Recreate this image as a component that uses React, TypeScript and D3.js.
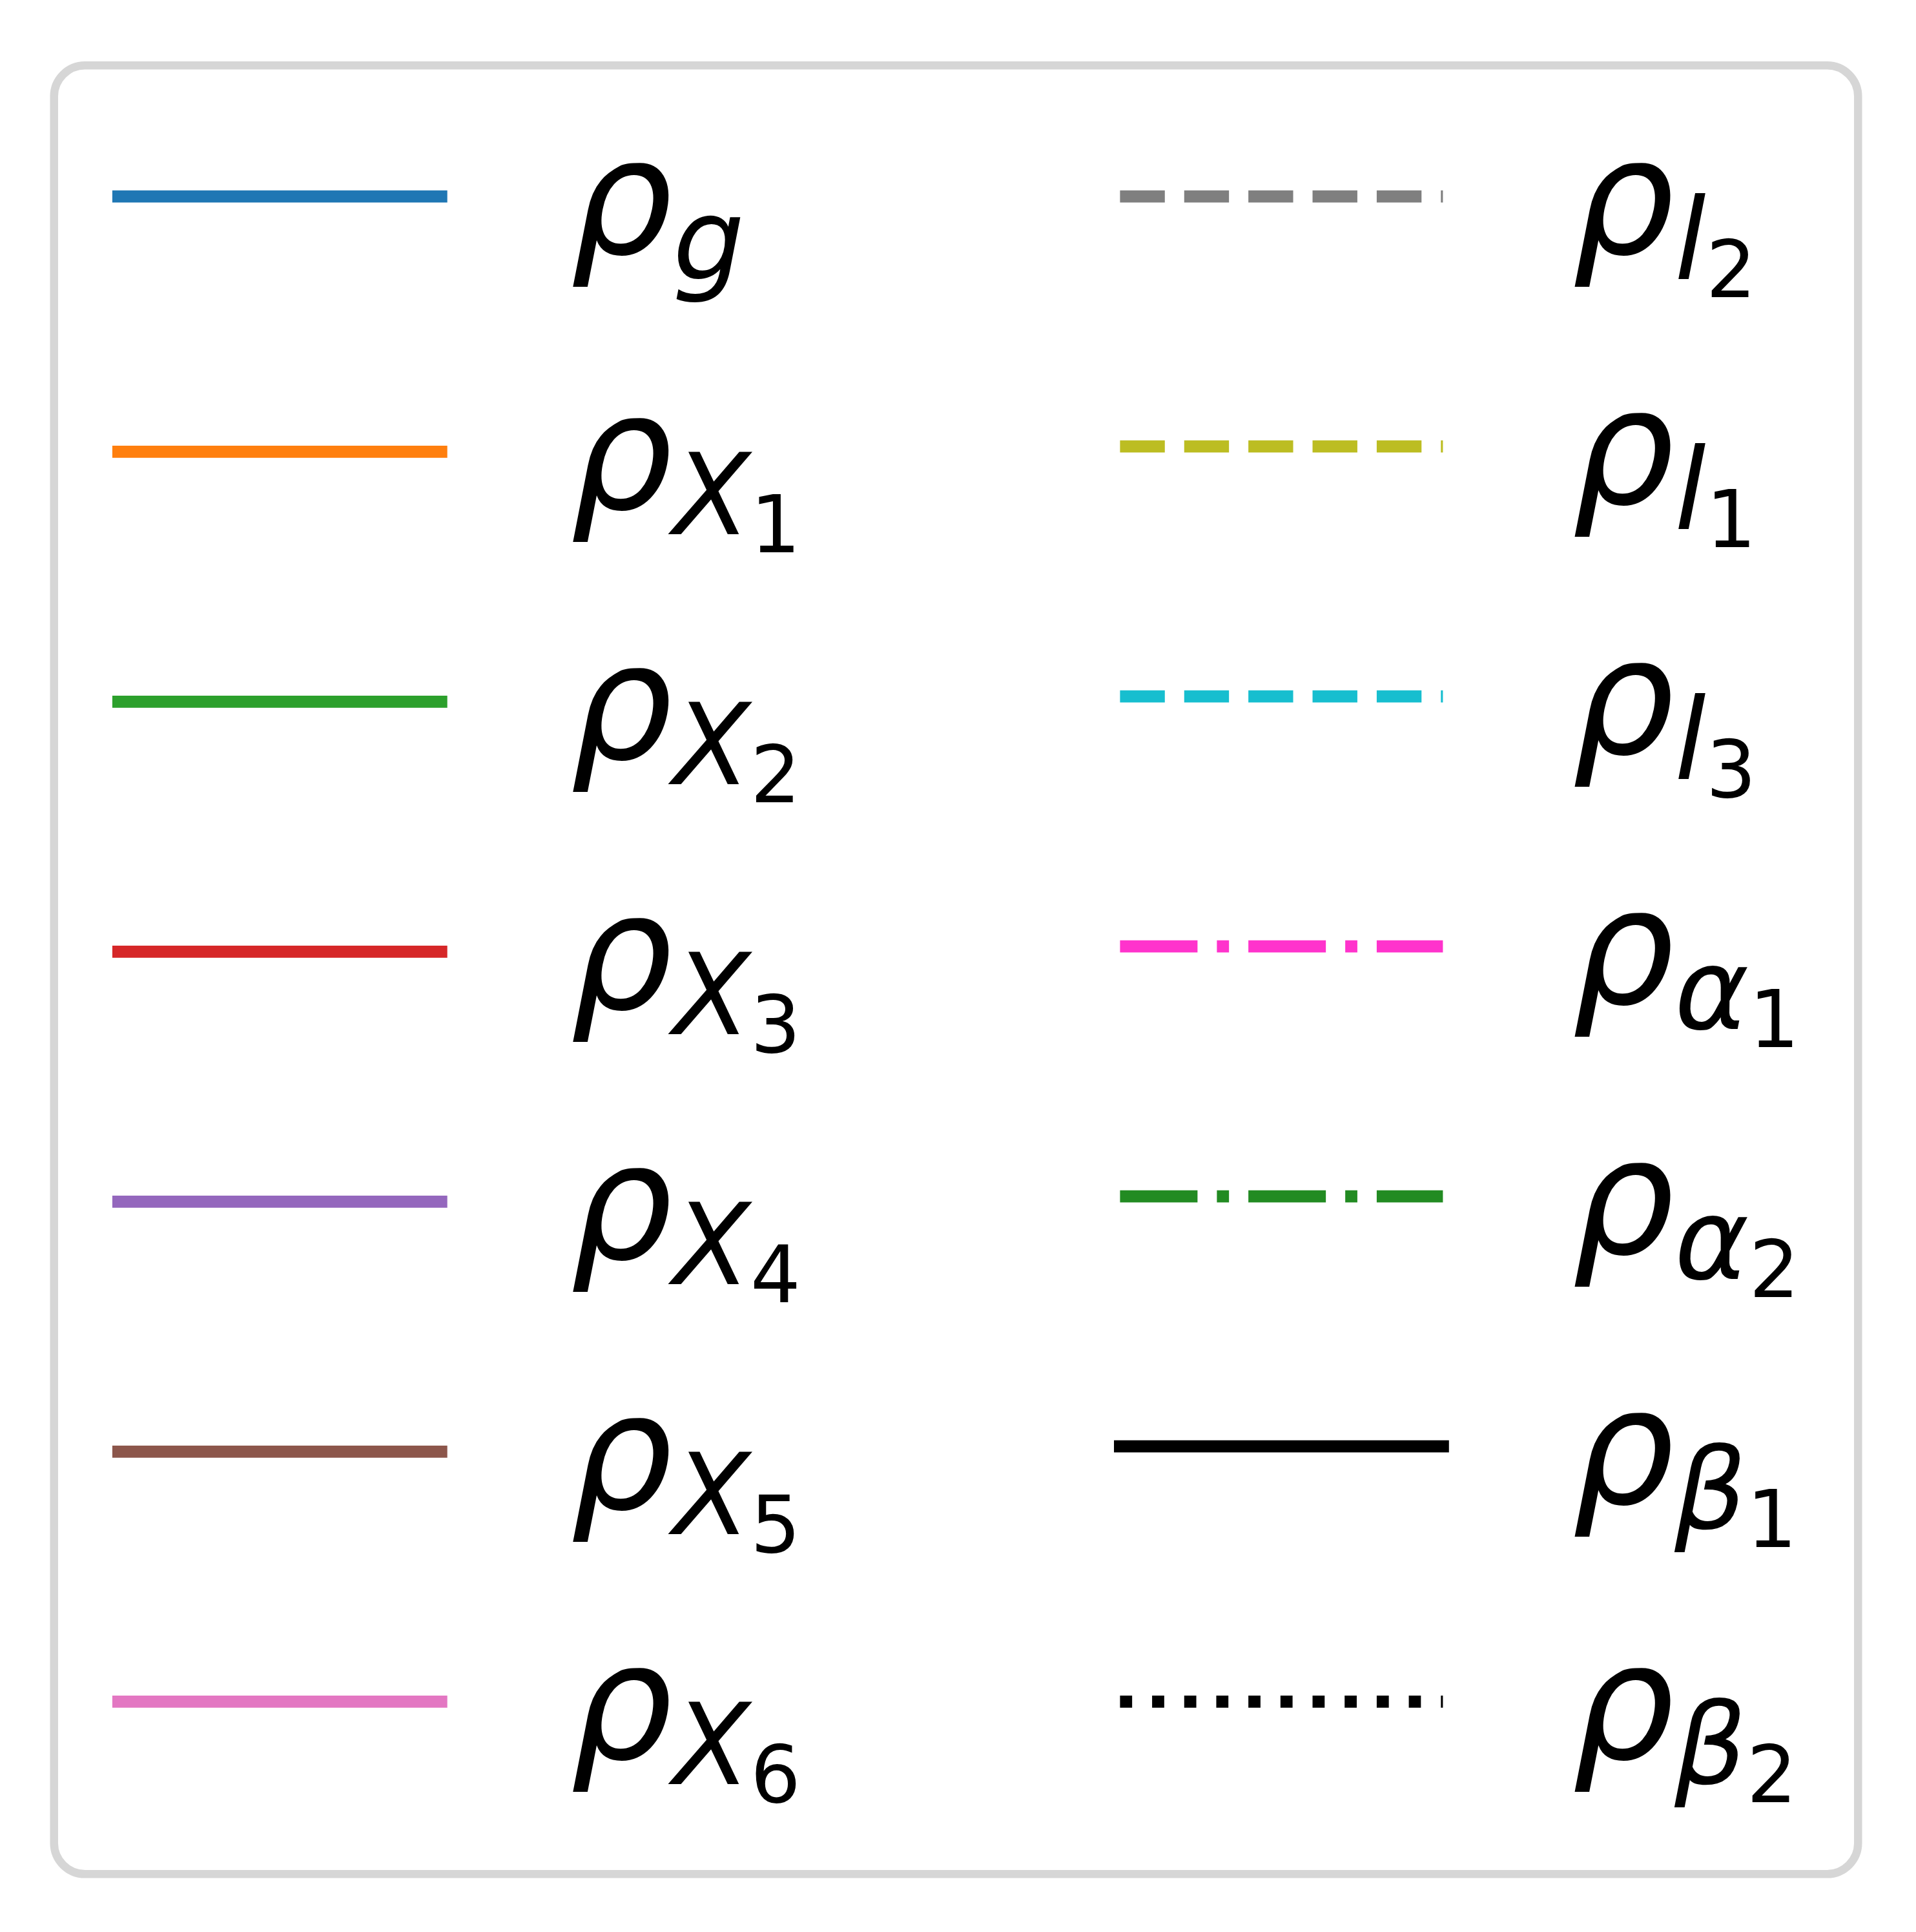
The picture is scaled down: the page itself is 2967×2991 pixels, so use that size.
import React from 'react';
import * as d3 from 'd3';

// ---------- data (legend entries) ----------
const leftSub = ['g', 'X', 'X', 'X', 'X', 'X', 'X'];
const leftSubSub = ['', '1', '2', '3', '4', '5', '6'];
const leftColors = ['#1f77b4', '#ff7f0e', '#2ca02c', '#d62728', '#9467bd', '#8c564b', '#e377c2'];
const leftStyles = ['-', '-', '-', '-', '-', '-', '-'];

const rightSub = ['l', 'l', 'l', 'α', 'α', 'β', 'β'];
const rightSubSub = ['2', '1', '3', '1', '2', '1', '2'];
const rightColors = ['#7f7f7f', '#bcbd22', '#17becf', '#ff33cc', '#228b22', '#000000', '#000000'];
const rightStyles = ['--', '--', '--', '-.', '-.', '-', ':'];

// ---------- layout ----------
const W = 2967;
const H = 2991;
const F = 250; // main font size (px)
const LW = 18.75; // handle line width (px)
const HANDLE_LEN = 500;
const TEXT_PAD = 200;
const COL_X = [183.3, 1734.4];
const ROW0 = 304;
const ROW_K = 319;
const BASELINE_OFF = 87.5;
const SUB_SHIFT = 0.16;
const DESC_LETTERS = new Set(['g', 'β', 'p', 'q', 'y', 'j', 'χ', 'γ', 'ρ']);

const DASHES: Record<string, number[] | null> = {
  '-': null,
  '--': [3.7, 1.6],
  '-.': [6.4, 1.6, 1, 1.6],
  ':': [1, 1.65],
};

function labelDescent(sub: string, subsub: string) {
  const s1 = SUB_SHIFT * F;
  const s2 = SUB_SHIFT * 0.7 * F;
  let d = 0.208 * F;
  if (DESC_LETTERS.has(sub)) d = Math.max(d, s1 + 0.208 * 0.7 * F);
  if (subsub) d = Math.max(d, s1 + s2);
  return d;
}

function rowPositions(subs: string[], subsubs: string[]) {
  const ys: number[] = [];
  let y = ROW0;
  subs.forEach((s, i) => {
    ys.push(y);
    y += labelDescent(s, subsubs[i]) + ROW_K;
  });
  return ys;
}

type Col = { subs: string[]; subsubs: string[]; colors: string[]; styles: string[] };
const columns: Col[] = [
  { subs: leftSub, subsubs: leftSubSub, colors: leftColors, styles: leftStyles },
  { subs: rightSub, subsubs: rightSubSub, colors: rightColors, styles: rightStyles },
];

export default function App() {
  const lineGen = d3.line<[number, number]>();
  return (
    <svg
      width={W}
      height={H}
      style={{ position: 'absolute', left: 0, top: 0, background: '#ffffff' }}
      xmlns="http://www.w3.org/2000/svg"
    >
      <rect x={0} y={0} width={W} height={H} fill="#ffffff" />
      <rect
        x={83.7}
        y={101.3}
        width={2793.6}
        height={2800}
        rx={48}
        ry={48}
        fill="#ffffff"
        stroke="#d6d6d6"
        strokeWidth={12.5}
      />
      {columns.map((col, ci) => {
        const x = d3.scaleLinear().domain([0, 1]).range([COL_X[ci], COL_X[ci] + HANDLE_LEN]);
        const ys = rowPositions(col.subs, col.subsubs);
        const textX = x(1) + TEXT_PAD;
        return (
          <g key={ci}>
            {col.subs.map((sub, i) => {
              const y = ys[i];
              const dash = DASHES[col.styles[i]];
              const d = lineGen([
                [x(0), y],
                [x(1), y],
              ]) as string;
              const base = y + BASELINE_OFF;
              const s1 = SUB_SHIFT * F;
              const s2 = SUB_SHIFT * 0.7 * F;
              return (
                <g key={i}>
                  <path
                    d={d}
                    fill="none"
                    stroke={col.colors[i]}
                    strokeWidth={LW}
                    strokeLinecap={dash ? 'butt' : 'square'}
                    strokeDasharray={dash ? dash.map((v) => v * LW).join(' ') : undefined}
                  />
                  <text
                    x={textX}
                    y={base}
                    fontFamily="'DejaVu Sans', sans-serif"
                    fontSize={F}
                    fill="#000000"
                  >
                    <tspan fontStyle="italic">ρ</tspan>
                    <tspan fontStyle="italic" fontSize={0.7 * F} dy={s1}>
                      {sub}
                    </tspan>
                    {col.subsubs[i] ? (
                      <tspan fontStyle="normal" fontSize={0.49 * F} dy={s2}>
                        {col.subsubs[i]}
                      </tspan>
                    ) : null}
                  </text>
                </g>
              );
            })}
          </g>
        );
      })}
    </svg>
  );
}
